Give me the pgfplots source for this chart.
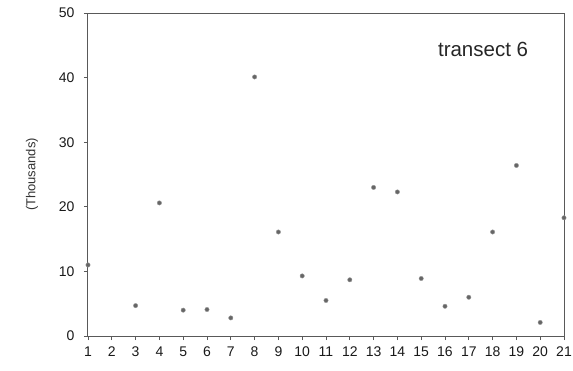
\documentclass[border=0pt]{standalone}
\usepackage{pgfplots}
\pgfplotsset{compat=1.18}
\usepackage{fontspec}
\setmainfont{Liberation Sans}
\begin{document}
\begin{tikzpicture}
\begin{axis}[
  scale only axis,
  width=476pt, height=323pt,
  xmin=1, xmax=21, ymin=0, ymax=50,
  xtick={1,...,21}, ytick={0,10,...,50},
  /pgf/number format/assume math mode=true,
  tick label style={font=\fontsize{14}{16}\selectfont, text=black!90},
  xticklabel style={yshift=-3pt},
  yticklabel style={xshift=-6pt},
  tick align=outside,
  major tick length=4pt,
  axis line style={draw=black!65, line width=1pt},
  tick style={draw=black!65, line width=0.8pt},
  ylabel={(Thousands)},
  ylabel style={font=\fontsize{13}{15}\selectfont, text=black!80},
  ylabel shift=14pt,
  xtick pos=bottom, ytick pos=left,
  clip=false,
]
\addplot[only marks, mark=*, mark size=2.2pt, mark options={fill=black!60, draw=black!40}]
coordinates {
(1,11.0) (3,4.7) (4,20.6) (5,4.0) (6,4.1) (7,2.8) (8,40.1) (9,16.1)
(10,9.3) (11,5.5) (12,8.7) (13,23.0) (14,22.3) (15,8.9) (16,4.6)
(17,6.0) (18,16.1) (19,26.4) (20,2.1) (21,18.3)
};
\node[font=\fontsize{20.5}{22}\selectfont, text=black!85, anchor=center] at (axis cs:17.6,44.3) {transect 6};
\end{axis}
\pgfresetboundingbox
\path[use as bounding box] ([xshift=-88pt,yshift=-34pt]current axis.south west) rectangle ([xshift=9pt,yshift=13pt]current axis.north east);
\end{tikzpicture}
\end{document}
